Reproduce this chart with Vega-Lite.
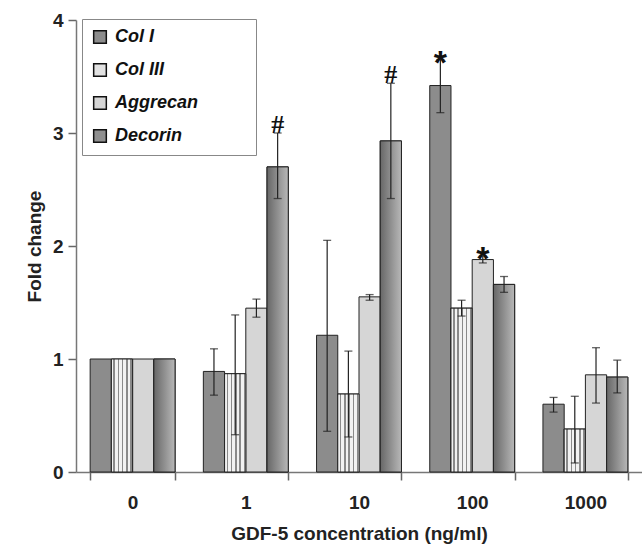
{
  "$schema": "https://vega.github.io/schema/vega-lite/v6.json",
  "width": 566,
  "height": 452,
  "autosize": {"type": "none"},
  "padding": {"left": 76, "top": 20, "right": 0, "bottom": 72},
  "background": "white",
  "config": {"view": {"stroke": null}, "font": "Liberation Sans"},
  "data": {
    "values": [
      {"conc": "0", "gene": "Col I", "v": 1.0, "sig": ""},
      {"conc": "0", "gene": "Col III", "v": 1.0, "sig": ""},
      {"conc": "0", "gene": "Aggrecan", "v": 1.0, "sig": ""},
      {"conc": "0", "gene": "Decorin", "v": 1.0, "sig": ""},
      {"conc": "1", "gene": "Col I", "v": 0.89, "lo": 0.68, "hi": 1.09, "sig": ""},
      {"conc": "1", "gene": "Col III", "v": 0.87, "lo": 0.33, "hi": 1.39, "sig": ""},
      {"conc": "1", "gene": "Aggrecan", "v": 1.45, "lo": 1.37, "hi": 1.53, "sig": ""},
      {"conc": "1", "gene": "Decorin", "v": 2.70, "lo": 2.42, "hi": 3.00, "sig": "#"},
      {"conc": "10", "gene": "Col I", "v": 1.21, "lo": 0.36, "hi": 2.05, "sig": ""},
      {"conc": "10", "gene": "Col III", "v": 0.69, "lo": 0.31, "hi": 1.07, "sig": ""},
      {"conc": "10", "gene": "Aggrecan", "v": 1.55, "lo": 1.52, "hi": 1.57, "sig": ""},
      {"conc": "10", "gene": "Decorin", "v": 2.93, "lo": 2.42, "hi": 3.44, "sig": "#"},
      {"conc": "100", "gene": "Col I", "v": 3.42, "lo": 3.18, "hi": 3.65, "sig": "*"},
      {"conc": "100", "gene": "Col III", "v": 1.45, "lo": 1.38, "hi": 1.52, "sig": ""},
      {"conc": "100", "gene": "Aggrecan", "v": 1.88, "lo": 1.85, "hi": 1.91, "sig": "*"},
      {"conc": "100", "gene": "Decorin", "v": 1.66, "lo": 1.59, "hi": 1.73, "sig": ""},
      {"conc": "1000", "gene": "Col I", "v": 0.60, "lo": 0.53, "hi": 0.66, "sig": ""},
      {"conc": "1000", "gene": "Col III", "v": 0.38, "lo": 0.08, "hi": 0.67, "sig": ""},
      {"conc": "1000", "gene": "Aggrecan", "v": 0.86, "lo": 0.61, "hi": 1.10, "sig": ""},
      {"conc": "1000", "gene": "Decorin", "v": 0.84, "lo": 0.70, "hi": 0.99, "sig": ""}
    ]
  },
  "encoding": {
    "x": {
      "field": "conc",
      "type": "nominal",
      "sort": ["0", "1", "10", "100", "1000"],
      "scale": {"paddingInner": 0.25, "paddingOuter": 0.125},
      "title": "GDF-5 concentration (ng/ml)",
      "axis": {
        "labelAngle": 0,
        "tickBand": "extent",
        "domainColor": "#777",
        "domainWidth": 1.5,
        "tickColor": "#666",
        "tickSize": 8,
        "tickWidth": 1.5,
        "labelFontSize": 19,
        "labelFontWeight": "bold",
        "labelColor": "#222",
        "labelPadding": 13,
        "titleFontSize": 19,
        "titleFontWeight": "bold",
        "titleColor": "#222",
        "titlePadding": 12,
        "grid": false
      }
    },
    "xOffset": {"field": "gene", "type": "nominal", "sort": ["Col I", "Col III", "Aggrecan", "Decorin"]}
  },
  "layer": [
    {
      "mark": {"type": "bar", "stroke": "#222", "strokeWidth": 1},
      "encoding": {
        "y": {
          "field": "v",
          "type": "quantitative",
          "scale": {"domain": [0, 4]},
          "title": "Fold change",
          "axis": {
            "values": [0, 1, 2, 3, 4],
            "format": "d",
            "domainColor": "#777",
            "domainWidth": 1.5,
            "tickColor": "#666",
            "tickSize": 8,
            "tickWidth": 1.5,
            "labelFontSize": 19,
            "labelFontWeight": "bold",
            "labelColor": "#222",
            "labelPadding": 5,
            "titleFontSize": 19,
            "titleFontWeight": "bold",
            "titleColor": "#222",
            "titlePadding": 8,
            "grid": false
          }
        },
        "color": {
          "field": "gene",
          "type": "nominal",
          "sort": ["Col I", "Col III", "Aggrecan", "Decorin"],
          "scale": {
            "domain": ["Col I", "Col III", "Aggrecan", "Decorin"],
            "range": ["#8c8c8c", "#e2e2e2", "#d6d6d6", "#8f8f8f"]
          },
          "legend": {
            "title": null,
            "orient": "none",
            "legendX": 6,
            "legendY": -1,
            "symbolType": "square",
            "symbolSize": 160,
            "symbolStrokeColor": "#111",
            "symbolStrokeWidth": 1.5,
            "labelFontSize": 18,
            "labelFontWeight": "bold",
            "labelFontStyle": "italic",
            "labelColor": "#111",
            "labelExpr": "datum.label + '\\u2800\\u2800\\u2002\\u2800'",
            "labelOffset": 6,
            "rowPadding": 13,
            "padding": 9,
            "strokeColor": "#888",
            "fillColor": "white"
          }
        }
      }
    },
    {
      "transform": [{"filter": "datum.gene === 'Decorin'"}],
      "mark": {
        "type": "bar",
        "stroke": "#222",
        "strokeWidth": 1,
        "fill": {
          "gradient": "linear",
          "x1": 0, "y1": 0, "x2": 1, "y2": 0,
          "stops": [
            {"offset": 0, "color": "#676767"},
            {"offset": 1, "color": "#b8b8b8"}
          ]
        }
      },
      "encoding": {"y": {"field": "v", "type": "quantitative"}}
    },
    {
      "transform": [{"filter": "datum.gene === 'Col III'"}],
      "mark": {
        "type": "bar",
        "stroke": "#222",
        "strokeWidth": 1,
        "fill": {
          "gradient": "linear",
          "x1": 0, "y1": 0, "x2": 1, "y2": 0,
          "stops": [
            {"offset": 0, "color": "#f2f2f2"},
            {"offset": 0.1, "color": "#f2f2f2"},
            {"offset": 0.1, "color": "#8a8a8a"},
            {"offset": 0.17, "color": "#8a8a8a"},
            {"offset": 0.17, "color": "#f2f2f2"},
            {"offset": 0.3, "color": "#f2f2f2"},
            {"offset": 0.3, "color": "#8a8a8a"},
            {"offset": 0.37, "color": "#8a8a8a"},
            {"offset": 0.37, "color": "#f2f2f2"},
            {"offset": 0.5, "color": "#f2f2f2"},
            {"offset": 0.5, "color": "#8a8a8a"},
            {"offset": 0.57, "color": "#8a8a8a"},
            {"offset": 0.57, "color": "#f2f2f2"},
            {"offset": 0.7, "color": "#f2f2f2"},
            {"offset": 0.7, "color": "#8a8a8a"},
            {"offset": 0.77, "color": "#8a8a8a"},
            {"offset": 0.77, "color": "#f2f2f2"},
            {"offset": 0.9, "color": "#f2f2f2"},
            {"offset": 0.9, "color": "#8a8a8a"},
            {"offset": 0.97, "color": "#8a8a8a"},
            {"offset": 0.97, "color": "#f2f2f2"},
            {"offset": 1, "color": "#f2f2f2"}
          ]
        }
      },
      "encoding": {"y": {"field": "v", "type": "quantitative"}}
    },
    {
      "mark": {"type": "rule", "color": "#222", "strokeWidth": 1.2},
      "encoding": {
        "y": {"field": "lo", "type": "quantitative"},
        "y2": {"field": "hi"}
      }
    },
    {
      "mark": {"type": "tick", "color": "#222", "size": 8, "thickness": 1.3},
      "encoding": {"y": {"field": "lo", "type": "quantitative"}}
    },
    {
      "mark": {"type": "tick", "color": "#222", "size": 8, "thickness": 1.3},
      "encoding": {"y": {"field": "hi", "type": "quantitative"}}
    },
    {
      "transform": [{"filter": "datum.sig === '#'"}],
      "mark": {"type": "text", "font": "Liberation Serif", "fontSize": 26, "fontWeight": "bold", "baseline": "alphabetic", "dy": 0, "color": "#111"},
      "encoding": {
        "y": {"field": "hi", "type": "quantitative"},
        "text": {"field": "sig"}
      }
    },
    {
      "transform": [{"filter": "datum.sig === '*'"}],
      "mark": {"type": "text", "fontSize": 34, "fontWeight": "bold", "baseline": "alphabetic", "dy": 14, "color": "#111"},
      "encoding": {
        "y": {"field": "hi", "type": "quantitative"},
        "text": {"field": "sig"}
      }
    }
  ]
}
